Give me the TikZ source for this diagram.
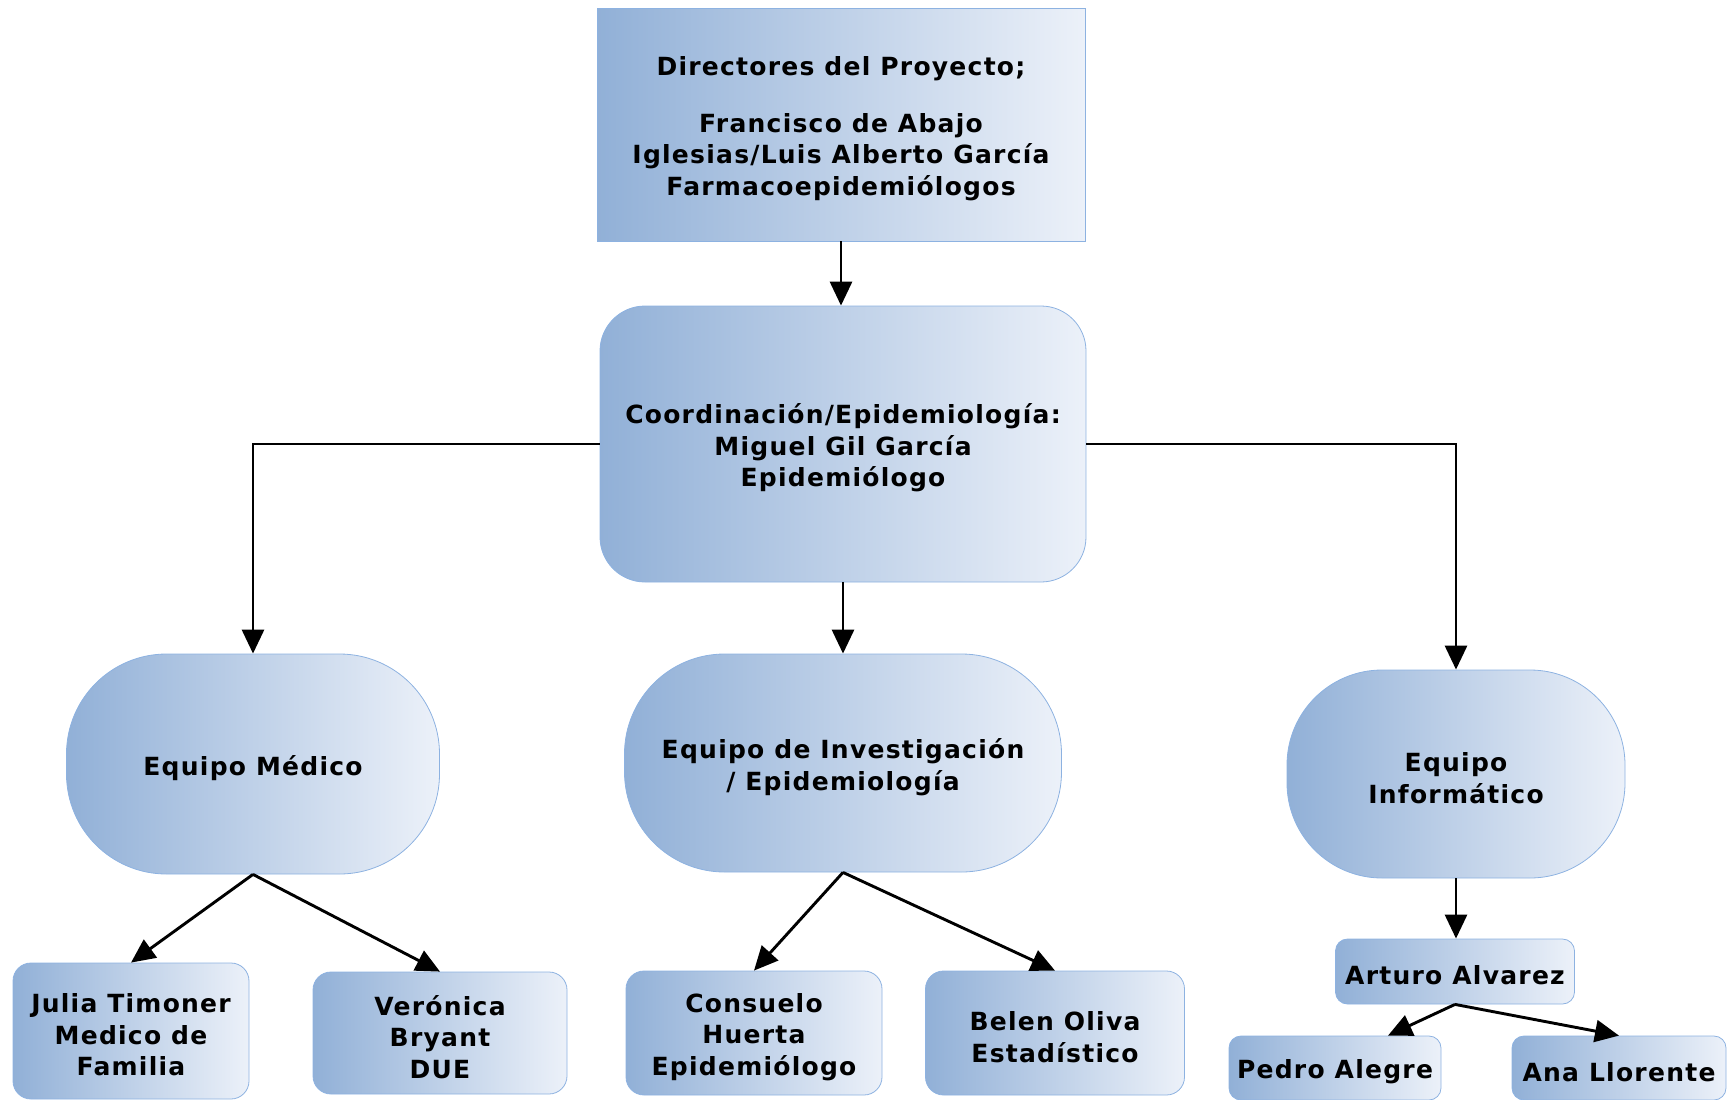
\documentclass[tikz,border=0pt]{standalone}
\usepackage{fontspec}
\setmainfont{DejaVu Sans}
\newfontfamily\boxfont[LetterSpace=5]{DejaVu Sans}
\usetikzlibrary{arrows.meta}
\definecolor{gl}{RGB}{145,176,215}
\definecolor{gr}{RGB}{236,241,249}
\definecolor{edge}{RGB}{141,178,225}
\tikzset{
  bx/.style={draw=edge, line width=0.8pt, left color=gl, right color=gr, inner sep=0pt},
  txt/.style={align=center, font=\boxfont\bfseries\fontsize{25}{31.5}\selectfont,
    inner sep=0pt, yshift=-4pt},
  arr/.style={line width=2.9pt, -{Triangle[length=24pt,width=22pt]}},
}
\begin{document}
\begin{tikzpicture}[x=1pt,y=-1pt]
\useasboundingbox (0,0) rectangle (1730,1100);
\node[bx, minimum width=488, minimum height=233,
  label={[txt]center:{Directores del Proyecto;\\[25pt]Francisco de Abajo\\Iglesias/Luis Alberto García\\Farmacoepidemiólogos}}]
  (dir) at (841,124.5) {};
\node[bx, rounded corners=45, minimum width=486, minimum height=276,
  label={[txt]center:{Coordinación/Epidemiología:\\Miguel Gil García\\Epidemiólogo}}]
  (coord) at (843,444) {};
\node[bx, rounded corners=100, minimum width=373, minimum height=220,
  label={[txt]center:{Equipo Médico}}] (med) at (253,764) {};
\node[bx, rounded corners=100, minimum width=437, minimum height=218,
  label={[txt]center:{Equipo de Investigación\\/ Epidemiología}}] (inv) at (843,763) {};
\node[bx, rounded corners=95, minimum width=338, minimum height=208,
  label={[txt]center:{Equipo\\Informático}}] (inf) at (1456,774) {};
\node[bx, rounded corners=18, minimum width=236, minimum height=136,
  label={[txt]center:{Julia Timoner\\Medico de\\Familia}}] (jul) at (131,1031) {};
\node[bx, rounded corners=18, minimum width=254, minimum height=122,
  label={[txt]center:{Verónica\\Bryant\\DUE}}] (ver) at (440,1033) {};
\node[bx, rounded corners=18, minimum width=256, minimum height=124,
  label={[txt]center:{Consuelo\\Huerta\\Epidemiólogo}}] (con) at (754,1033) {};
\node[bx, rounded corners=18, minimum width=259, minimum height=124,
  label={[txt]center:{Belen Oliva\\Estadístico}}] (bel) at (1055,1033) {};
\node[bx, rounded corners=12, minimum width=239, minimum height=65,
  label={[txt]center:{Arturo Alvarez}}] (art) at (1455,971.5) {};
\node[bx, rounded corners=12, minimum width=212, minimum height=64,
  label={[txt]center:{Pedro Alegre}}] (ped) at (1335,1068) {};
\node[bx, rounded corners=12, minimum width=214, minimum height=64,
  label={[txt]center:{Ana Llorente}}] (ana) at (1619,1068) {};
\draw[arr] (dir.south) -- (dir.south |- coord.north);
\draw[arr] (coord.west) -| (med.north);
\draw[arr] (coord.east) -| (inf.north);
\draw[arr] (coord.south) -- (coord.south |- inv.north);
\draw[arr] (med.south) -- (jul.north);
\draw[arr] (med.south) -- (ver.north);
\draw[arr] (inv.south) -- (con.north);
\draw[arr] (inv.south) -- (bel.north);
\draw[arr] (inf.south) -- (inf.south |- art.north);
\draw[arr] (art.south) -- ([xshift=53pt]ped.north);
\draw[arr] (art.south) -- (ana.north);
\end{tikzpicture}
\end{document}
